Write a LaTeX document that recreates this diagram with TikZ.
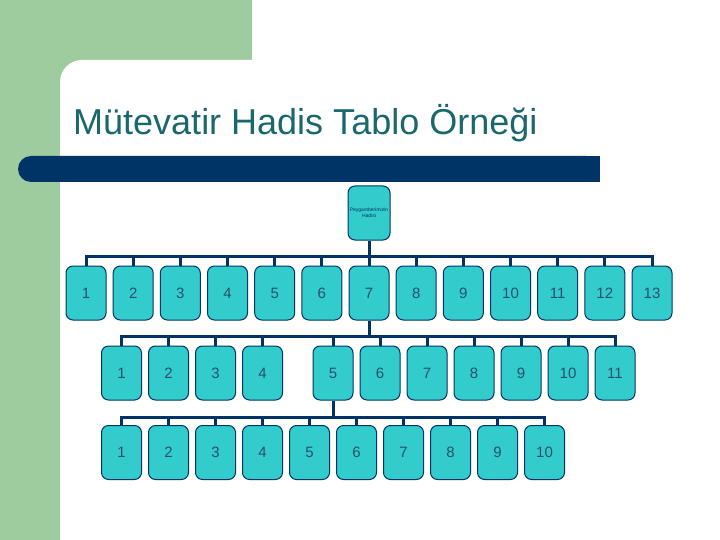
\documentclass[tikz,border=0pt]{standalone}
\usepackage{fontspec}
\setmainfont{Liberation Sans}
\definecolor{slidegreen}{RGB}{158,204,158}
\definecolor{barblue}{RGB}{0,51,102}
\definecolor{boxfill}{RGB}{51,204,204}
\definecolor{titleteal}{RGB}{26,104,110}
\definecolor{numblue}{RGB}{40,80,110}
\begin{document}
\begin{tikzpicture}[x=1pt, y=-1pt, font=\fontsize{15}{16}\selectfont, line join=miter,
        hbox/.style={draw=barblue, line width=1pt, fill=boxfill, rounded corners=7pt, minimum width=40pt, minimum height=54pt, inner sep=0pt, text=numblue},
        link/.style={draw=barblue, line width=3pt}]
    \useasboundingbox (0,0) rectangle (720,540);
    % slide background
    \fill[slidegreen] (0,0) rectangle (252,100);
    \fill[slidegreen] (0,0) rectangle (60,540);
    \fill[white] (60,540) -- (60,82) arc[start angle=180, end angle=90, radius=22pt] -- (720,60) -- (720,540) -- cycle;
    \fill[barblue, rounded corners=13pt] (18,156) rectangle (600,182);
    \fill[barblue] (580,156) rectangle (600,182);
    \node[anchor=base west, inner sep=0pt, text=titleteal, font=\fontsize{36}{40}\selectfont] (title) at (73,135) {Mütevatir Hadis Tablo Örneği};

    % root
    \node[hbox, minimum width=42pt, align=center, font=\fontsize{5}{6}\selectfont, text=barblue] (top) at (369,213) {Peygamberimizin\\Hadisi};

    % first row
    \node[hbox] (a1) at (86,293) {1};
    \node[hbox] (a2) at (133.2,293) {2};
    \node[hbox] (a3) at (180.3,293) {3};
    \node[hbox] (a4) at (227.5,293) {4};
    \node[hbox] (a5) at (274.7,293) {5};
    \node[hbox] (a6) at (321.8,293) {6};
    \node[hbox] (a7) at (369,293) {7};
    \node[hbox] (a8) at (416.2,293) {8};
    \node[hbox] (a9) at (463.3,293) {9};
    \node[hbox] (a10) at (510.5,293) {10};
    \node[hbox] (a11) at (557.7,293) {11};
    \node[hbox] (a12) at (604.8,293) {12};
    \node[hbox] (a13) at (652,293) {13};

    % second row
    \node[hbox] (b1) at (121.5,373) {1};
    \node[hbox] (b2) at (168.5,373) {2};
    \node[hbox] (b3) at (215.5,373) {3};
    \node[hbox] (b4) at (262.5,373) {4};
    \node[hbox] (b5) at (333,373) {5};
    \node[hbox] (b6) at (380,373) {6};
    \node[hbox] (b7) at (427,373) {7};
    \node[hbox] (b8) at (474,373) {8};
    \node[hbox] (b9) at (521,373) {9};
    \node[hbox] (b10) at (568,373) {10};
    \node[hbox] (b11) at (615,373) {11};

    % third row
    \node[hbox] (c1) at (121.5,452.5) {1};
    \node[hbox] (c2) at (168.5,452.5) {2};
    \node[hbox] (c3) at (215.5,452.5) {3};
    \node[hbox] (c4) at (262.5,452.5) {4};
    \node[hbox] (c5) at (309.5,452.5) {5};
    \node[hbox] (c6) at (356.5,452.5) {6};
    \node[hbox] (c7) at (403.5,452.5) {7};
    \node[hbox] (c8) at (450.5,452.5) {8};
    \node[hbox] (c9) at (497.5,452.5) {9};
    \node[hbox] (c10) at (544.5,452.5) {10};

    % buses
    \coordinate (bus1) at (369,256);
    \coordinate (bus2) at (369,336);
    \coordinate (bus3) at (333,417);

    \draw[link] (top.south) -- (a7.north);
    \draw[link] (a1.north) |- (bus1) -| (a13.north);
    \draw[link] (a2.north) -- (a2.north |- bus1) (a3.north) -- (a3.north |- bus1)
        (a4.north) -- (a4.north |- bus1) (a5.north) -- (a5.north |- bus1)
        (a6.north) -- (a6.north |- bus1) (a8.north) -- (a8.north |- bus1)
        (a9.north) -- (a9.north |- bus1) (a10.north) -- (a10.north |- bus1)
        (a11.north) -- (a11.north |- bus1) (a12.north) -- (a12.north |- bus1);

    \draw[link] (a7.south) -- (bus2);
    \draw[link] (b1.north) |- (bus2) -| (b11.north);
    \draw[link] (b2.north) -- (b2.north |- bus2) (b3.north) -- (b3.north |- bus2)
        (b4.north) -- (b4.north |- bus2) (b5.north) -- (b5.north |- bus2)
        (b6.north) -- (b6.north |- bus2) (b7.north) -- (b7.north |- bus2)
        (b8.north) -- (b8.north |- bus2) (b9.north) -- (b9.north |- bus2)
        (b10.north) -- (b10.north |- bus2);

    \draw[link] (b5.south) -- (bus3);
    \draw[link] (c1.north) |- (bus3) -| (c10.north);
    \draw[link] (c2.north) -- (c2.north |- bus3) (c3.north) -- (c3.north |- bus3)
        (c4.north) -- (c4.north |- bus3) (c5.north) -- (c5.north |- bus3)
        (c6.north) -- (c6.north |- bus3) (c7.north) -- (c7.north |- bus3)
        (c8.north) -- (c8.north |- bus3) (c9.north) -- (c9.north |- bus3);
\end{tikzpicture}
\end{document}
